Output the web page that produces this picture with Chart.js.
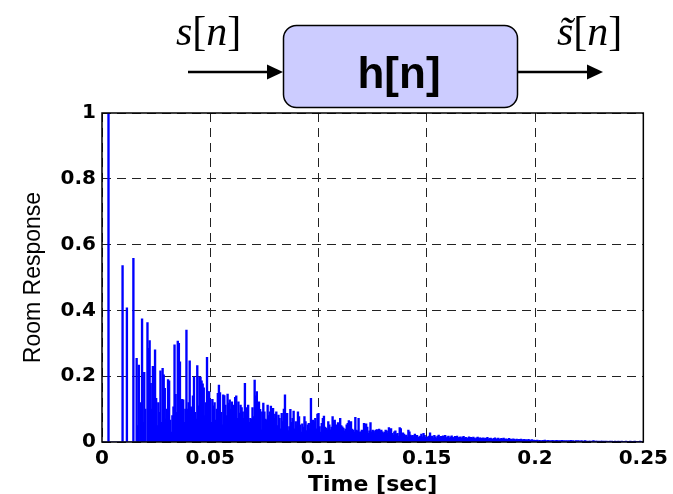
<!DOCTYPE html>
<html>
<head>
<meta charset="UTF-8">
<script src="https://cdn.jsdelivr.net/npm/chart.js"></script>
<style>
    body { margin: 0; background: #fff; }
    #wrap { width: 673px; height: 494px; }
</style>
</head>
<body>
<div id="wrap"><canvas id="rir" width="673" height="494"></canvas></div>
<script>
// room impulse response h[n], one value every 0.5 ms (fs = 2 kHz), split in 25 ms blocks
var fs = 2000;
var h000 = [0,0,0,0,0,0,1.0,0,0,0,
    0,0,0,0,0,0,0,0,0,0.536,
    0,0,0,0.408,0,0,0,0,0,0.558,
    0,0,0.254,0.05,0.234,0,0.12,0.374,0.06,0.212,
    0.10,0,0.363,0.285,0.308,0.178,0.10,0.23,0.08,0.28];
var h025 = [0.133,0.05,0.12,0.09,0.216,0.06,0.224,0.204,0.163,0.07,
    0.10,0.19,0.186,0.067,0.03,0.08,0.107,0.295,0.145,0.09,
    0.307,0.30,0.244,0.082,0.13,0.128,0.06,0.10,0.34,0.10,
    0.12,0.247,0.107,0.10,0.14,0.198,0.09,0.07,0.232,0.11,
    0.197,0.197,0.186,0.177,0.165,0.08,0.12,0.257,0.153,0.153];
var h050 = [0.13,0.06,0.13,0.11,0.12,0.067,0.10,0.148,0.173,0.15,
    0.09,0.052,0.143,0.141,0.112,0.08,0.146,0.118,0.128,0.10,
    0.122,0.112,0.082,0.136,0.14,0.072,0.122,0.088,0.112,0.105,
    0.092,0.072,0.178,0.042,0.105,0.112,0.06,0.072,0.07,0.105,
    0.077,0.188,0.14,0.153,0.067,0.122,0.099,0.037,0.092,0.118];
var h075 = [0.092,0.07,0.067,0.112,0.08,0.092,0.109,0.06,0.102,0.072,
    0.085,0.092,0.05,0.082,0.072,0.04,0.087,0.062,0.10,0.143,
    0.066,0.087,0.035,0.047,0.099,0.06,0.072,0.094,0.04,0.062,
    0.05,0.092,0.077,0.052,0.03,0.055,0.045,0.077,0.062,0.035,
    0.052,0.057,0.04,0.133,0.05,0.067,0.062,0.072,0.04,0.085];
var h100 = [0.087,0.047,0.03,0.057,0.072,0.079,0.045,0.042,0.037,0.062,
    0.052,0.037,0.045,0.077,0.065,0.067,0.052,0.042,0.059,0.039,
    0.072,0.05,0.046,0.042,0.034,0.039,0.052,0.057,0.065,0.036,
    0.062,0.039,0.036,0.03,0.075,0.036,0.034,0.072,0.03,0.031,
    0.036,0.028,0.057,0.031,0.055,0.045,0.026,0.034,0.059,0.031];
var h125 = [0.036,0.034,0.028,0.036,0.038,0.031,0.039,0.034,0.036,0.031,
    0.026,0.03,0.036,0.034,0.026,0.044,0.021,0.041,0.026,0.021,
    0.031,0.034,0.024,0.026,0.018,0.044,0.041,0.024,0.028,0.024,
    0.018,0.021,0.016,0.036,0.031,0.021,0.018,0.02,0.016,0.024,
    0.016,0.02,0.014,0.016,0.018,0.024,0.016,0.026,0.02,0.014];
var h150 = [0.016,0.014,0.018,0.028,0.014,0.018,0.013,0.02,0.016,0.012,
    0.018,0.021,0.014,0.017,0.012,0.019,0.015,0.02,0.013,0.016,
    0.018,0.012,0.016,0.019,0.014,0.011,0.017,0.015,0.018,0.012,
    0.014,0.016,0.011,0.015,0.017,0.012,0.014,0.01,0.013,0.016,
    0.012,0.014,0.011,0.015,0.012,0.01,0.013,0.015,0.011,0.013];
var h175 = [0.012,0.01,0.013,0.009,0.012,0.011,0.014,0.009,0.011,0.012,
    0.01,0.008,0.011,0.013,0.009,0.01,0.012,0.008,0.01,0.011,
    0.009,0.012,0.008,0.01,0.007,0.009,0.011,0.008,0.009,0.007,
    0.01,0.008,0.006,0.009,0.007,0.008,0.006,0.009,0.007,0.006,
    0.008,0.006,0.007,0.005,0.008,0.006,0.005,0.007,0.005,0.006];
var h200 = [0.005,0.004,0.006,0.003,0.005,0.004,0.003,0.005,0.004,0.006,
    0.003,0.004,0.005,0.003,0.004,0.003,0.005,0.004,0.003,0.004,
    0.005,0.003,0.004,0.003,0.004,0.005,0.003,0.004,0.003,0.004,
    0.003,0.004,0.003,0.005,0.003,0.004,0.003,0.003,0.004,0.003,
    0.004,0.003,0.003,0.004,0.002,0.003,0.004,0.003,0.003,0.002];
var h225 = [0.003,0.003,0.002,0.003,0.004,0.002,0.003,0.003,0.002,0.003,
    0.002,0.003,0.003,0.002,0.003,0.002,0.003,0.002,0.002,0.003,
    0.002,0.003,0.002,0.002,0.003,0.002,0.002,0.003,0.002,0.002,
    0.003,0.002,0.002,0.002,0.003,0.002,0.002,0.002,0.003,0.002,
    0.002,0.002,0.003,0.002,0.002,0.002,0.002,0.003,0.002,0.002];

var xTickValues = [0, 0.05, 0.1, 0.15, 0.2, 0.25];
var xTickLabels = ['0', '0.05', '0.1', '0.15', '0.2', '0.25'];
var yTickValues = [0, 0.2, 0.4, 0.6, 0.8, 1];
var yTickLabels = ['0', '0.2', '0.4', '0.6', '0.8', '1'];

var h = [].concat(h000, h025, h050, h075, h100, h125, h150, h175, h200, h225);
var points = h.map(function (v, n) { return { x: n / fs, y: v }; });

// block diagram  s[n] -> h[n] -> s~[n]  above the plot
function drawMath(ctx, parts, x, y) {
    parts.forEach(function (p) {
        ctx.font = (p[1] ? 'italic ' : '') + '42px "Liberation Serif"';
        ctx.fillText(p[0], x, y);
        x += ctx.measureText(p[0]).width;
    });
}

function arrow(ctx, x0, x1, y) {
    ctx.beginPath();
    ctx.moveTo(x0, y);
    ctx.lineTo(x1 - 14, y);
    ctx.lineWidth = 2.5;
    ctx.strokeStyle = '#000';
    ctx.stroke();
    ctx.beginPath();
    ctx.moveTo(x1, y);
    ctx.lineTo(x1 - 16, y - 7.5);
    ctx.lineTo(x1 - 16, y + 7.5);
    ctx.closePath();
    ctx.fillStyle = '#000';
    ctx.fill();
}

var diagram = {
    id: 'diagram',
    afterDatasetsDraw: function (chart) {
        var ctx = chart.ctx, a = chart.chartArea;
        ctx.save();
        // axes box
        ctx.strokeStyle = '#000';
        ctx.lineWidth = 1.5;
        ctx.strokeRect(a.left, a.top, a.right - a.left, a.bottom - a.top);
        ctx.restore();
    },
    afterDraw: function (chart) {
        var ctx = chart.ctx;
        ctx.save();
        ctx.beginPath();
        ctx.roundRect(283.5, 25.5, 234, 82, 13);
        ctx.fillStyle = '#ccccff';
        ctx.fill();
        ctx.lineWidth = 1.5;
        ctx.strokeStyle = '#000';
        ctx.stroke();

        arrow(ctx, 188, 283, 72);
        arrow(ctx, 518, 603, 72);

        ctx.fillStyle = '#000';
        ctx.textBaseline = 'alphabetic';
        ctx.textAlign = 'center';
        ctx.font = 'bold 44px "Liberation Sans"';
        ctx.fillText('h[n]', 399, 88);

        ctx.textAlign = 'left';
        drawMath(ctx, [['s', true], ['[', false], ['n', true], [']', false]], 176, 45);
        drawMath(ctx, [['s\u0303', true], ['[', false], ['n', true], [']', false]], 557, 45);
        ctx.restore();
    }
};

new Chart(document.getElementById('rir'), {
    type: 'bar',
    data: {
        datasets: [{
            data: points,
            backgroundColor: '#0000ff',
            borderWidth: 0,
            barThickness: 1.7
        }]
    },
    options: {
        responsive: false,
        animation: false,
        layout: { padding: { top: 113, right: 28, left: 0, bottom: 0 } },
        plugins: { legend: { display: false }, tooltip: { enabled: false } },
        scales: {
            x: {
                type: 'linear',
                min: 0,
                max: 0.25,
                offset: false,
                afterFit: function (s) { s.height = 52; },
                afterBuildTicks: function (s) { s.ticks = xTickValues.map(function (v) { return { value: v }; }); },
                grid: { offset: false, color: '#222', drawTicks: false, lineWidth: 1 },
                border: { display: false, dash: [9, 6] },
                ticks: {
                    padding: 5,
                    color: '#000',
                    font: { family: 'DejaVu Sans', size: 20, weight: 'bold' },
                    maxRotation: 0,
                    callback: function (v, i) { return xTickLabels[i]; }
                },
                title: {
                    display: true,
                    text: 'Time [sec]',
                    color: '#000',
                    padding: { top: 0, bottom: 0 },
                    font: { family: 'DejaVu Sans', size: 22, weight: 'bold', lineHeight: 0.75 }
                }
            },
            y: {
                min: 0,
                max: 1,
                afterFit: function (s) { s.width = 102; },
                afterBuildTicks: function (s) { s.ticks = yTickValues.map(function (v) { return { value: v }; }); },
                grid: { color: '#222', drawTicks: false, lineWidth: 1 },
                border: { display: false, dash: [9, 6] },
                ticks: {
                    padding: 6,
                    color: '#000',
                    font: { family: 'DejaVu Sans', size: 20, weight: 'bold' },
                    callback: function (v, i) { return yTickLabels[i]; }
                },
                title: {
                    display: true,
                    text: 'Room Response',
                    color: '#000',
                    padding: { top: 22, bottom: 0 },
                    font: { family: 'Liberation Sans', size: 23, weight: 'normal', lineHeight: 1 }
                }
            }
        }
    },
    plugins: [diagram]
});
</script>
</body>
</html>
